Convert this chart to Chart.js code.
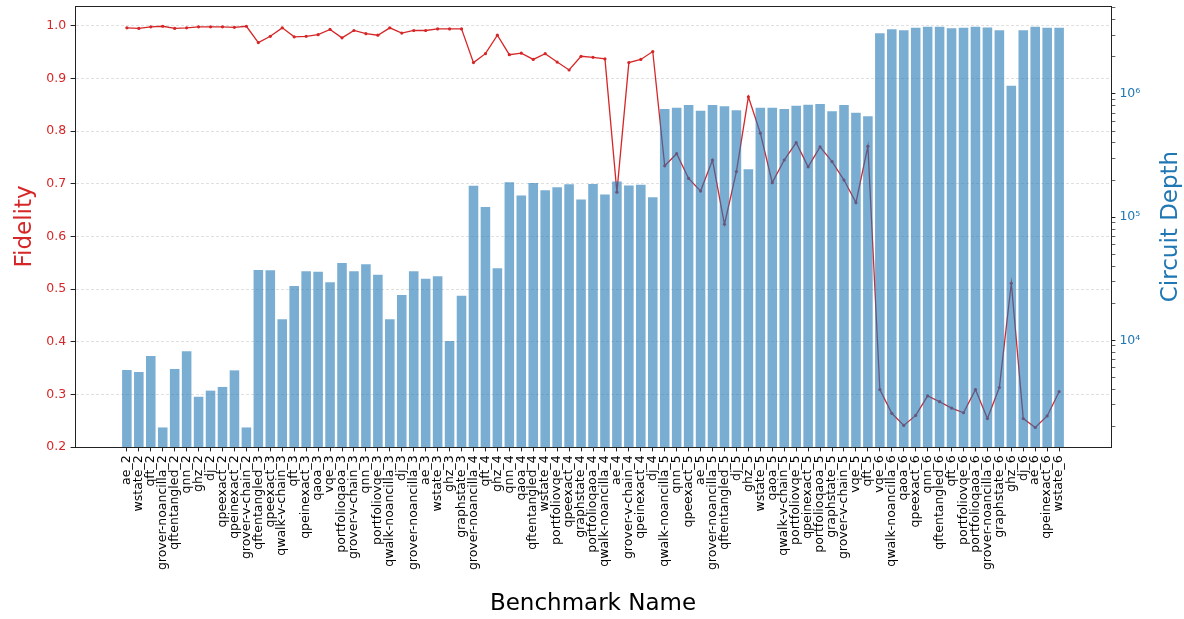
<!DOCTYPE html>
<html>
<head>
<meta charset="utf-8">
<title>Fidelity and Circuit Depth per Benchmark</title>
<script src="https://cdn.jsdelivr.net/npm/chart.js@4/dist/chart.umd.min.js"></script>
<style>
  html, body { margin: 0; padding: 0; background: #ffffff; }
  #wrap { width: 1184px; height: 619px; }
</style>
</head>
<body>
<div id="wrap"><canvas id="chart" width="1184" height="619"></canvas></div>
<script>
// Benchmark circuits, grouped by qubit count
const benchmarks = [
  'ae_2','wstate_2','qft_2','grover-noancilla_2','qftentangled_2','qnn_2','ghz_2','dj_2','qpeexact_2','qpeinexact_2','grover-v-chain_2',
  'qftentangled_3','qpeexact_3','qwalk-v-chain_3','qft_3','qpeinexact_3','qaoa_3','vqe_3','portfolioqaoa_3','grover-v-chain_3','qnn_3','portfoliovqe_3','qwalk-noancilla_3','dj_3','grover-noancilla_3','ae_3','wstate_3','ghz_3','graphstate_3',
  'grover-noancilla_4','qft_4','ghz_4','qnn_4','qaoa_4','qftentangled_4','wstate_4','portfoliovqe_4','qpeexact_4','graphstate_4','portfolioqaoa_4','qwalk-noancilla_4','ae_4','grover-v-chain_4','qpeinexact_4','dj_4',
  'qwalk-noancilla_5','qnn_5','qpeexact_5','ae_5','grover-noancilla_5','qftentangled_5','dj_5','ghz_5','wstate_5','qaoa_5','qwalk-v-chain_5','portfoliovqe_5','qpeinexact_5','portfolioqaoa_5','graphstate_5','grover-v-chain_5','vqe_5','qft_5',
  'vqe_6','qwalk-noancilla_6','qaoa_6','qpeexact_6','qnn_6','qftentangled_6','qft_6','portfoliovqe_6','portfolioqaoa_6','grover-noancilla_6','graphstate_6','ghz_6','dj_6','ae_6','qpeinexact_6','wstate_6'
];

// Measured fidelity per benchmark
const fidelity = [
  0.996,0.995,0.998,0.999,0.995,0.996,0.998,0.998,0.998,0.997,0.999,
  0.968,0.980,0.996,0.979,0.980,0.983,0.993,0.977,0.991,0.985,0.982,0.996,0.986,0.991,0.991,0.994,0.994,0.994,
  0.930,0.947,0.982,0.945,0.948,0.936,0.947,0.931,0.916,0.942,0.940,0.937,0.684,0.930,0.936,0.951,
  0.734,0.757,0.710,0.686,0.745,0.623,0.723,0.865,0.796,0.702,0.745,0.778,0.732,0.770,0.742,0.707,0.664,0.771,
  0.309,0.264,0.241,0.260,0.297,0.286,0.274,0.265,0.309,0.254,0.313,0.511,0.254,0.237,0.259,0.305
];

// Circuit depth per benchmark
const circuitDepth = [
  5740,5530,7470,1960,5850,8150,3480,3900,4180,5700,1960,
  37200,37000,14800,27600,36300,36100,29600,42500,36300,41400,34100,14800,23300,36300,31600,33100,9870,23000,
  180000,120800,38400,192000,150000,189000,165000,175000,185000,139000,186000,153000,195000,181000,183000,145000,
  755000,774000,814000,731000,814000,794000,738000,245000,774000,774000,755000,803000,819000,830000,724000,814000,705000,659000,
  3110000,3350000,3290000,3450000,3520000,3520000,3410000,3450000,3520000,3470000,3290000,1167000,3290000,3520000,3450000,3450000
];

// Axis ticks
const fidelityTicks = [0.2, 0.3, 0.4, 0.5, 0.6, 0.7, 0.8, 0.9, 1.0];
const depthDecades = [3, 4, 5, 6];

const RED = '#d62728';
const BLUE = '#1f77b4';
const FONT = "'DejaVu Sans', 'Liberation Sans', sans-serif";
const SUP = { '0':'\u2070','1':'\u00b9','2':'\u00b2','3':'\u00b3','4':'\u2074','5':'\u2075','6':'\u2076','7':'\u2077','8':'\u2078','9':'\u2079' };

// Log-axis ticks: every 1..9 x 10^k, labels only on the decades
const depthTicks = [];
depthDecades.forEach(k => { for (let m = 1; m <= 9; m++) depthTicks.push(m * Math.pow(10, k)); });

// Keep the plot box fixed: no extra room for overhanging tick labels
function noOverhang(s) {
  s.paddingTop = 0; s.paddingBottom = 0; s.paddingLeft = 0; s.paddingRight = 0;
}

// Top spine and right-hand axis title
const framePlugin = {
  id: 'frame',
  afterDraw(chart) {
    const { ctx, chartArea } = chart;
    ctx.save();
    ctx.strokeStyle = '#222';
    ctx.lineWidth = 1;
    ctx.beginPath();
    ctx.moveTo(chartArea.left, Math.round(chartArea.top) + 0.5);
    ctx.lineTo(chartArea.right, Math.round(chartArea.top) + 0.5);
    ctx.stroke();
    ctx.translate(1177, (chartArea.top + chartArea.bottom) / 2);
    ctx.rotate(-Math.PI / 2);
    ctx.fillStyle = BLUE;
    ctx.font = '23px ' + FONT;
    ctx.textAlign = 'center';
    ctx.textBaseline = 'alphabetic';
    ctx.fillText('Circuit Depth', 0, 0);
    ctx.restore();
  }
};

new Chart(document.getElementById('chart'), {
  type: 'bar',
  data: {
    datasets: [
      {
        type: 'line',
        label: 'Fidelity',
        data: fidelity.map((v, i) => ({ x: i, y: v })),
        xAxisID: 'x',
        yAxisID: 'y',
        order: 2,
        borderColor: RED,
        backgroundColor: RED,
        borderWidth: 1.3,
        pointRadius: 1.6,
        pointBorderWidth: 0,
        pointBackgroundColor: RED,
        tension: 0,
        fill: false
      },
      {
        type: 'bar',
        label: 'Circuit Depth',
        data: circuitDepth.map((v, i) => ({ x: i, y: v })),
        xAxisID: 'x',
        yAxisID: 'y2',
        order: 1,
        backgroundColor: 'rgba(31,119,180,0.6)',
        borderWidth: 0,
        categoryPercentage: 1.0,
        barPercentage: 0.8
      }
    ]
  },
  options: {
    responsive: false,
    devicePixelRatio: 1,
    animation: false,
    layout: { padding: { top: 6, left: 0, right: 0, bottom: 0 } },
    plugins: {
      legend: { display: false },
      tooltip: { enabled: false }
    },
    scales: {
      x: {
        type: 'linear',
        position: 'bottom',
        min: -4.34,
        max: 82.34,
        bounds: 'data',
        offset: false,
        afterBuildTicks: s => { s.ticks = benchmarks.map((_, i) => ({ value: i })); },
        afterFit: s => { s.height = 172; noOverhang(s); },
        ticks: {
          autoSkip: false,
          minRotation: 90,
          maxRotation: 90,
          padding: 4,
          color: '#000',
          font: { family: FONT, size: 12.5 },
          callback: v => benchmarks[v]
        },
        grid: { display: true, drawOnChartArea: false, drawTicks: true, offset: false, tickLength: 4.4, tickColor: '#222', tickWidth: 1 },
        border: { display: true, color: '#222', width: 1 },
        title: {
          display: true,
          text: 'Benchmark Name',
          color: '#000',
          font: { family: FONT, size: 23 },
          padding: { top: 0, bottom: 1 }
        }
      },
      y: {
        type: 'linear',
        position: 'left',
        min: 0.2,
        max: 1.0375,
        bounds: 'data',
        afterBuildTicks: s => { s.ticks = fidelityTicks.map(v => ({ value: v })); },
        afterFit: s => { s.width = 75; noOverhang(s); },
        ticks: {
          color: RED,
          padding: 4.4,
          font: { family: FONT, size: 12.5 },
          callback: v => v.toFixed(1)
        },
        grid: { drawOnChartArea: true, color: 'rgba(190,190,190,0.6)', lineWidth: 0.8, tickLength: 4.4, tickColor: '#222', tickWidth: 1 },
        border: { display: true, color: '#222', width: 1, dash: [3, 2] },
        title: {
          display: true,
          text: 'Fidelity',
          color: RED,
          font: { family: FONT, size: 23 },
          padding: { top: 11, bottom: 0 }
        }
      },
      y2: {
        type: 'logarithmic',
        position: 'right',
        min: 1360,
        max: 5.18e6,
        bounds: 'data',
        afterBuildTicks: s => { s.ticks = depthTicks.filter(v => v >= s.min && v <= s.max).map(v => ({ value: v })); },
        afterFit: s => { s.width = 73; noOverhang(s); },
        ticks: {
          autoSkip: false,
          color: BLUE,
          padding: 4,
          font: { family: FONT, size: 12.5 },
          callback: v => {
            const e = Math.log10(v);
            if (Math.abs(e - Math.round(e)) < 1e-9) {
              return '10' + String(Math.round(e)).split('').map(d => SUP[d]).join('');
            }
            return '';
          }
        },
        grid: {
          drawOnChartArea: false,
          drawTicks: true,
          tickLength: 4.4,
          tickColor: '#222',
          tickWidth: ctx => {
            const v = ctx.tick ? ctx.tick.value : 0;
            const e = Math.log10(v);
            return Math.abs(e - Math.round(e)) < 1e-9 ? 1 : 0.7;
          }
        },
        border: { display: true, color: '#222', width: 1 },
        title: { display: false }
      }
    }
  },
  plugins: [framePlugin]
});
</script>
</body>
</html>
